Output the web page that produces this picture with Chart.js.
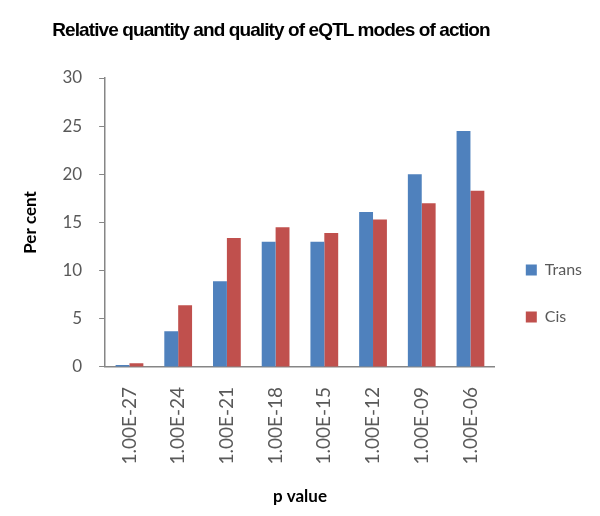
<!DOCTYPE html>
<html>
<head>
<meta charset="utf-8">
<script src="https://cdn.jsdelivr.net/npm/chart.js@4"></script>
<style>
  body { margin: 0; background: #fff; }
  #wrap { position: relative; width: 600px; height: 516px; }
  #title {
    position: absolute; left: 0; top: 19px; width: 542px; text-align: center;
    font-family: "Liberation Sans", Arial, sans-serif; font-weight: bold;
    font-size: 19px; letter-spacing: -0.9px; color: #000;
  }
  canvas { position: absolute; left: 0; top: 0; }
</style>
</head>
<body>
<div id="wrap">
  <canvas id="chart1" width="600" height="516"></canvas>
  <div id="title">Relative quantity and quality of eQTL modes of action</div>
</div>
<script>
const pValues = ['1.00E-27', '1.00E-24', '1.00E-21', '1.00E-18', '1.00E-15', '1.00E-12', '1.00E-09', '1.00E-06'];
const transPct = [0.2, 3.7, 8.9, 13.0, 13.0, 16.1, 20.0, 24.5];
const cisPct = [0.4, 6.4, 13.4, 14.5, 13.9, 15.3, 17.0, 18.3];

const axisGrey = '#868686';
const labelGrey = '#595959';

let chart1 = null;

function drawChart() {
  if (chart1) chart1.destroy();
  chart1 = new Chart(document.getElementById('chart1'), {
    type: 'bar',
    data: {
      labels: pValues,
      datasets: [{
        label: 'Trans',
        data: transPct,
        backgroundColor: '#4F81BD',
        borderWidth: 0
      },
      {
        label: 'Cis',
        data: cisPct,
        backgroundColor: '#C0504D',
        borderWidth: 0
      }]
    },
    options: {
      responsive: false,
      animation: false,
      layout: { padding: { top: 78, left: 20, right: 8, bottom: 7 } },
      datasets: { bar: { categoryPercentage: 0.57, barPercentage: 1 } },
      plugins: {
        tooltip: { enabled: false },
        legend: {
          position: 'right',
          align: 'center',
          labels: {
            boxWidth: 11,
            boxHeight: 11,
            padding: 31,
            color: labelGrey,
            font: { family: 'Lato', size: 16 }
          }
        }
      },
      scales: {
        x: {
          grid: { display: true, drawOnChartArea: false, drawTicks: false },
          border: { color: axisGrey, width: 1.5 },
          ticks: {
            minRotation: 90, maxRotation: 90, padding: 20,
            color: labelGrey, font: { family: 'Lato', size: 19 }
          },
          title: {
            display: true, text: 'p value', color: '#000',
            font: { family: 'Lato', size: 17, weight: 'bold' },
            padding: { top: 2, bottom: 2 }
          }
        },
        y: {
          min: 0, max: 30,
          grid: { display: true, drawOnChartArea: false, drawTicks: true, tickLength: 6, color: axisGrey },
          border: { color: axisGrey, width: 1.5 },
          ticks: {
            stepSize: 5, padding: 17,
            color: labelGrey, font: { family: 'Lato', size: 17 }
          },
          title: {
            display: true, text: 'Per cent', color: '#000',
            font: { family: 'Lato', size: 17, weight: 'bold' },
            padding: { top: 0, bottom: 5 }
          }
        }
      }
    }
  });
}

document.addEventListener('DOMContentLoaded', drawChart);
</script>
</body>
</html>
